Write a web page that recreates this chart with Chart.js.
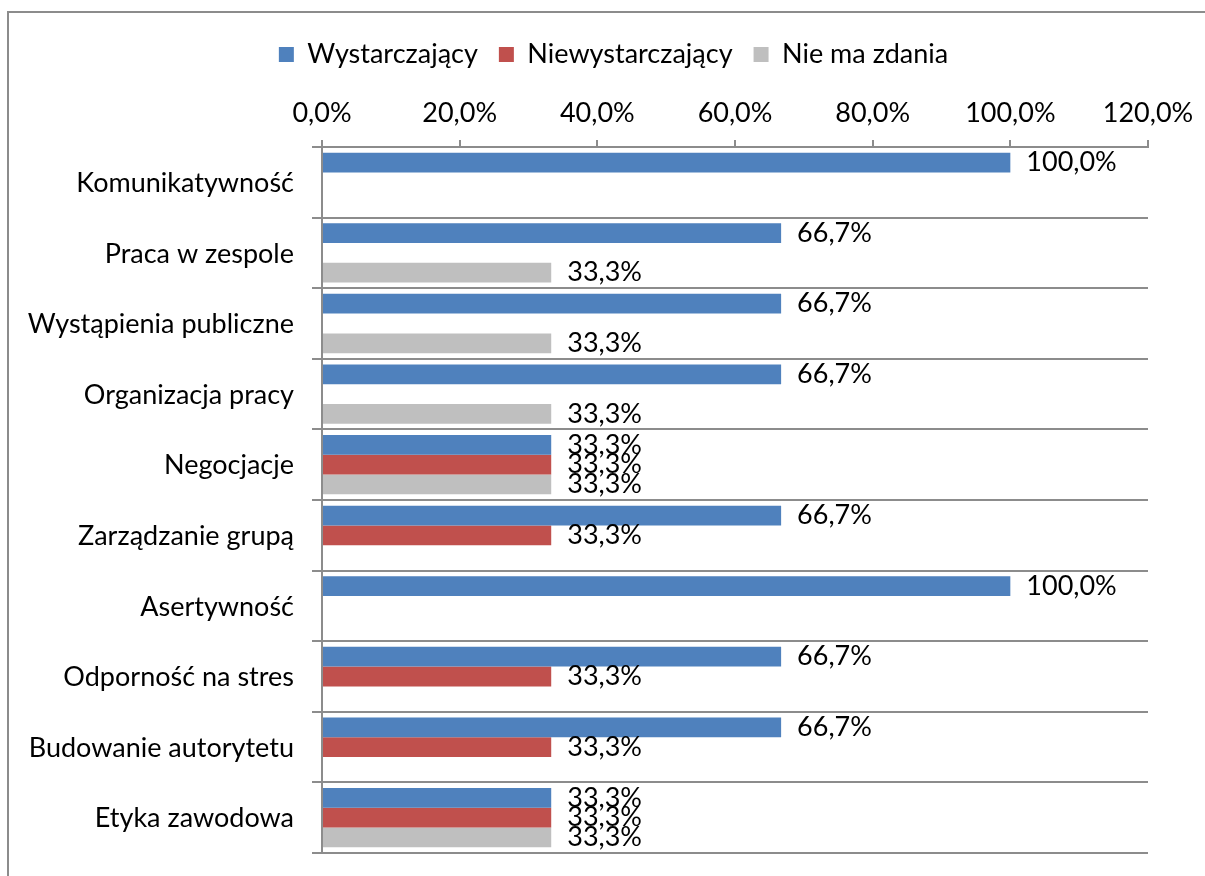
<!DOCTYPE html>
<html>
<head>
<meta charset="utf-8">
<script src="https://cdn.jsdelivr.net/npm/chart.js@4/dist/chart.umd.min.js"></script>
<style>
  html, body { margin: 0; padding: 0; background: #fff; }
  #frame { position: absolute; left: 7px; top: 11px; width: 1220px; height: 900px; border: 2px solid #8c8c8c; box-sizing: border-box; }
  #wrap { position: absolute; left: 0; top: 0; width: 1205px; height: 876px; }
</style>
</head>
<body>
<div id="frame"></div>
<div id="wrap"><canvas id="chart1"></canvas></div>
<script>
var categories = [
    'Komunikatywność', 'Praca w zespole', 'Wystąpienia publiczne', 'Organizacja pracy',
    'Negocjacje', 'Zarządzanie grupą', 'Asertywność', 'Odporność na stres',
    'Budowanie autorytetu', 'Etyka zawodowa'
];
var wystarczajacy    = [100, 66.7, 66.7, 66.7, 33.3, 66.7, 100, 66.7, 66.7, 33.3];
var niewystarczajacy = [null, null, null, null, 33.3, 33.3, null, 33.3, 33.3, 33.3];
var nieMaZdania      = [null, 33.3, 33.3, 33.3, 33.3, null, null, null, null, 33.3];
var xTicks = [0, 20, 40, 60, 80, 100, 120];

var fontName = 'Lato';
var fontSize = 27;

function pct(v) {
    return v.toFixed(1).replace('.', ',') + '%';
}

// value text to the right of each bar
var valueLabels = {
    id: 'valueLabels',
    afterDatasetsDraw: function (chart) {
        var ctx = chart.ctx;
        ctx.save();
        ctx.font = fontSize + 'px ' + fontName;
        ctx.fillStyle = '#000';
        ctx.textAlign = 'left';
        ctx.textBaseline = 'middle';
        chart.data.datasets.forEach(function (ds, i) {
            chart.getDatasetMeta(i).data.forEach(function (bar, j) {
                var v = ds.data[j];
                if (v === null) return;
                ctx.fillText(pct(v), bar.x + 16, bar.y);
            });
        });
        ctx.restore();
    }
};

var ctx = document.getElementById('chart1').getContext('2d');

var myChart1 = new Chart(ctx, {
    type: 'bar',
    data: {
        labels: categories,
        datasets: [{
            label: 'Wystarczający',
            data: wystarczajacy,
            backgroundColor: '#4f81bd'
        }, {
            label: 'Niewystarczający',
            data: niewystarczajacy,
            backgroundColor: '#c0504d'
        }, {
            label: 'Nie ma zdania',
            data: nieMaZdania,
            backgroundColor: '#bfbfbf'
        }]
    },
    options: {
        indexAxis: 'y',
        responsive: true,
        maintainAspectRatio: false,
        animation: false,
        layout: {
            padding: { left: 22, right: 0, top: 20, bottom: 23 }
        },
        datasets: {
            bar: {
                barPercentage: 1,
                categoryPercentage: 0.84,
                borderWidth: 0
            }
        },
        plugins: {
            tooltip: { enabled: false },
            legend: {
                position: 'top',
                labels: {
                    boxWidth: 15,
                    boxHeight: 15,
                    padding: 21,
                    color: '#000',
                    font: { family: fontName, size: fontSize }
                }
            }
        },
        scales: {
            x: {
                position: 'top',
                min: 0,
                max: 120,
                afterBuildTicks: function (scale) {
                    scale.ticks = xTicks.map(function (v) { return { value: v }; });
                },
                afterFit: function (scale) {
                    scale.paddingRight = 57;
                    scale.height = 69;
                },
                ticks: {
                    color: '#000',
                    padding: 11,
                    maxRotation: 0,
                    font: { family: fontName, size: fontSize },
                    callback: function (v) { return pct(v); }
                },
                grid: {
                    drawOnChartArea: false,
                    drawTicks: true,
                    tickLength: 7,
                    color: '#8c8c8c',
                    lineWidth: 2
                },
                border: { color: '#8c8c8c', width: 2 }
            },
            y: {
                afterFit: function (scale) {
                    scale.width = 300;
                    scale.paddingTop = 0;
                    scale.paddingBottom = 0;
                },
                ticks: {
                    color: '#000',
                    padding: 18,
                    labelOffset: 1,
                    font: { family: fontName, size: fontSize }
                },
                grid: {
                    offset: true,
                    tickLength: 10,
                    color: '#8c8c8c',
                    lineWidth: 2
                },
                border: { color: '#8c8c8c', width: 2 }
            }
        }
    },
    plugins: [valueLabels]
});
</script>
</body>
</html>
